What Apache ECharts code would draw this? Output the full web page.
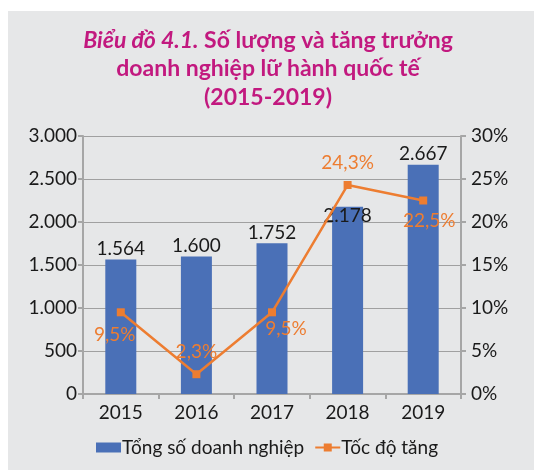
<!DOCTYPE html>
<html>
<head>
<meta charset="utf-8">
<script src="https://cdn.jsdelivr.net/npm/echarts@6/dist/echarts.min.js"></script>
<style>
  html, body { margin: 0; padding: 0; background: #fff; }
  #chart { width: 534px; height: 470px; }
</style>
</head>
<body>
<div id="chart"></div>
<script>
var years = ['2015', '2016', '2017', '2018', '2019'];
var soDoanhNghiep = [1564, 1600, 1752, 2178, 2667];
var tocDoTang = [9.5, 2.3, 9.5, 24.3, 22.5];
// where each label of the growth line sits
var lineLabelPos = ['bottom', 'top', 'bottom', 'top', 'bottom'];

function thousands(v) {
  return String(v).replace(/\B(?=(\d{3})+(?!\d))/g, '.');
}

var FONT = 'Lato';
var FS = 19;
var axisCol = '#a6a6a6';

var barData = soDoanhNghiep.map(function (v, i) {
  var d = { value: v };
  if (i === 3) d.label = { position: 'insideTop', distance: 0 };
  return d;
});
var lineData = tocDoTang.map(function (v, i) {
  var d = { value: v, label: { position: lineLabelPos[i], distance: 9 } };
  if (i === 0) d.label.offset = [-6, 0];
  if (i === 2) d.label.offset = [14, -6];
  if (i === 4) d.label.offset = [6, -2];
  return d;
});

var chart = echarts.init(document.getElementById('chart'));
chart.setOption({
  animation: false,
  textStyle: { fontFamily: FONT },
  graphic: [{
    type: 'rect', z: -10, silent: true,
    shape: { x: 8, y: 11, width: 540, height: 470 },
    style: { fill: '#e6e7e8' }
  }],
  title: {
    text: '{i|Biểu đồ 4.1.} Số lượng và tăng trưởng\ndoanh nghiệp lữ hành quốc tế\n(2015-2019)',
    left: 268, top: 26, padding: 0, textAlign: 'center',
    textStyle: {
      fontFamily: FONT, fontSize: 23, fontWeight: 'bold', color: '#c2197f', lineHeight: 28.5,
      rich: { i: { fontFamily: FONT, fontSize: 23, fontWeight: 'bold', fontStyle: 'italic', color: '#c2197f' } }
    }
  },
  grid: { left: 83, right: 73, top: 136, bottom: 76 },
  legend: {
    top: 438, left: 'center', itemGap: 10, padding: 0,
    itemWidth: 25, itemHeight: 10,
    textStyle: { fontFamily: FONT, fontSize: FS, color: '#1a1a1a', padding: [0, 0, 0, -4] },
    data: [
      { name: 'Tổng số doanh nghiệp', icon: 'rect' },
      { name: 'Tốc độ tăng' }
    ]
  },
  xAxis: {
    type: 'category', data: years,
    axisLine: { lineStyle: { color: axisCol, width: 2 } },
    axisTick: { show: true, length: 5, lineStyle: { color: axisCol, width: 2 } },
    axisLabel: { fontFamily: FONT, fontSize: FS, color: '#1a1a1a', margin: 9 }
  },
  yAxis: [{
    type: 'value', min: 0, max: 3000, interval: 500,
    axisLine: { show: true, lineStyle: { color: axisCol, width: 2 } },
    axisTick: { show: true, length: 5, lineStyle: { color: axisCol, width: 2 } },
    splitLine: { lineStyle: { color: '#a0a0a0', width: 1.2 } },
    axisLabel: { fontFamily: FONT, fontSize: FS, color: '#1a1a1a', margin: 6, formatter: thousands }
  }, {
    type: 'value', min: 0, max: 30, interval: 5, position: 'right',
    axisLine: { show: true, lineStyle: { color: axisCol, width: 2 } },
    axisTick: { show: true, length: 5, lineStyle: { color: axisCol, width: 2 } },
    splitLine: { show: false },
    axisLabel: { fontFamily: FONT, fontSize: FS, color: '#1a1a1a', margin: 10, formatter: '{value}%' }
  }],
  series: [{
    name: 'Tổng số doanh nghiệp', type: 'bar', data: barData,
    barWidth: 31,
    itemStyle: { color: '#4a70b7' },
    label: {
      show: true, position: 'top', distance: 1,
      fontFamily: FONT, fontSize: FS, color: '#1a1a1a',
      formatter: function (p) { return thousands(p.value); }
    }
  }, {
    name: 'Tốc độ tăng', type: 'line', yAxisIndex: 1, data: lineData,
    symbol: 'rect', symbolSize: 8,
    lineStyle: { color: '#ed7d31', width: 2.5 },
    itemStyle: { color: '#ed7d31' },
    label: {
      show: true, fontFamily: FONT, fontSize: FS, color: '#ed7d31',
      formatter: function (p) { return String(p.value).replace('.', ',') + '%'; }
    }
  }]
});
</script>
</body>
</html>
